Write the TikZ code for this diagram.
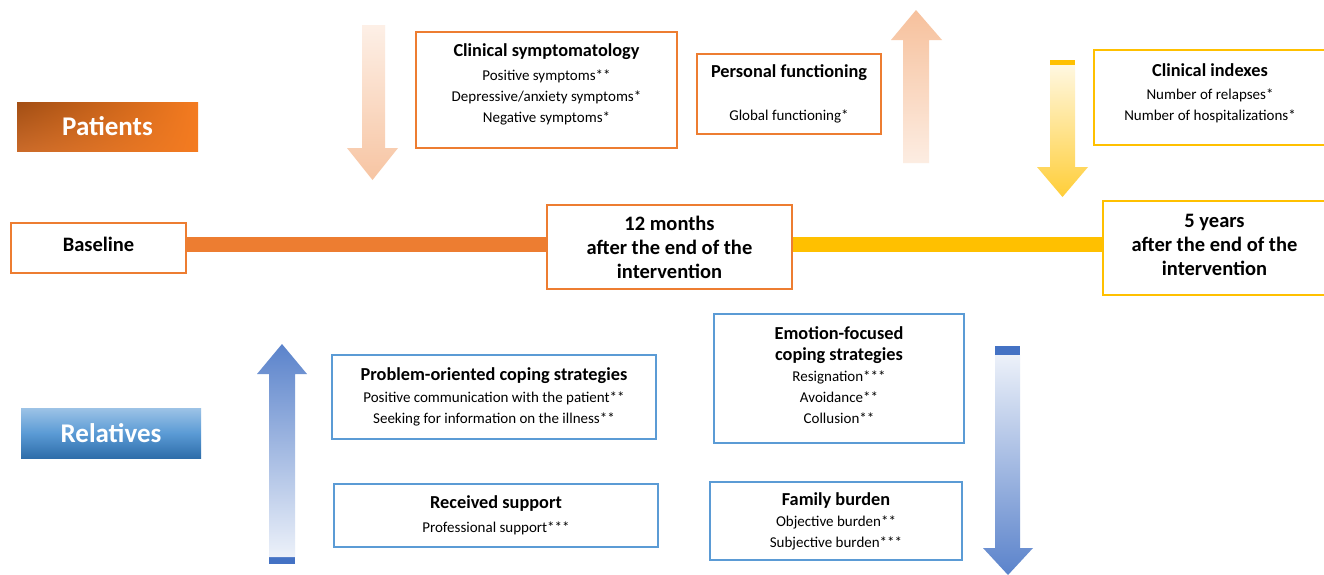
\documentclass[tikz,border=0pt]{standalone}
\usepackage{fontspec}
\setmainfont{Carlito}
\usetikzlibrary{shadings}
\definecolor{orB}{HTML}{ED7D31}
\definecolor{yeB}{HTML}{FFC000}
\definecolor{blB}{HTML}{5B9BD5}
\definecolor{blA}{HTML}{4472C4}
\definecolor{blTop}{HTML}{9DC3E6}
\definecolor{blBot}{HTML}{2E6DAA}
\definecolor{orDark}{HTML}{A24E14}
\definecolor{orMain}{HTML}{F47B20}
\begin{document}
\begin{tikzpicture}[x=1pt,y=-1pt,
  box/.style={draw, line width=2pt, fill=white, align=center, inner sep=0pt,
    font=\fontsize{15}{21}\selectfont},
  obox/.style={box, draw=orB},
  ybox/.style={box, draw=yeB},
  bbox/.style={box, draw=blB},
  tlbox/.style={box, font=\fontsize{20.5}{24}\selectfont\bfseries},
  grp/.style={text=white, inner sep=0pt, font=\fontsize{27}{30}\selectfont\bfseries},
  bar/.style={line width=15pt}
]
\newcommand{\ttl}[1]{{\bfseries\fontsize{18.3}{21}\selectfont #1}}
\useasboundingbox (0,0) rectangle (1324,574);
\fill[white] (0,0) rectangle (1324,574);

% arrows (decorative)
\shade[top color=orB!12, bottom color=orB!45]
  (362,25) -- (385,25) -- (385,148) -- (398,148) -- (372.5,180) -- (347,148) -- (362,148) -- cycle;
\shade[top color=orB!48, bottom color=orB!14]
  (903,163) -- (929,163) -- (929,40) -- (942,40) -- (916,10) -- (891,40) -- (903,40) -- cycle;
\fill[yeB] (1050,60) rectangle (1075,65);
\shade[top color=yeB!12, bottom color=yeB!78]
  (1050,65) -- (1075,65) -- (1075,167) -- (1088,167) -- (1062.5,197) -- (1037,167) -- (1050,167) -- cycle;
\fill[blA] (269,557) rectangle (295,564);
\shade[top color=blA!88, bottom color=blA!10]
  (269,557) -- (295,557) -- (295,374) -- (307,374) -- (282,344) -- (257,374) -- (269,374) -- cycle;
\fill[blA] (995,346) rectangle (1020,355);
\shade[top color=blA!10, bottom color=blA!88]
  (995,355) -- (1020,355) -- (1020,548) -- (1033,548) -- (1008,575) -- (983,548) -- (995,548) -- cycle;

% group labels
\node[grp, minimum width=181pt, minimum height=49pt,
  upper left=orDark, upper right=orMain, lower left=orB!85!black, lower right=orMain]
  (patients) at (107.5,126.5) {Patients};
\node[grp, minimum width=180pt, minimum height=50pt,
  top color=blTop, bottom color=blBot, middle color=blB]
  (relatives) at (111,433) {Relatives};

% timeline
\node[tlbox, draw=orB, minimum width=175pt, minimum height=50pt] (base) at (98.5,248) {Baseline\rule[-7pt]{0pt}{0pt}};
\node[tlbox, draw=orB, minimum width=245pt, minimum height=84pt] (m12) at (669.5,247)
  {12 months\\after the end of the\\intervention};
\node[tlbox, draw=yeB, minimum width=223pt, minimum height=94pt] (y5) at (1214.5,248)
  {5 years\\after the end of the\\intervention\rule[-6pt]{0pt}{0pt}};
\draw[bar, orB] ([yshift=3.5pt]base.east) -- ([yshift=3.5pt]base.east -| m12.west);
\draw[bar, yeB] ([yshift=3.5pt]base.east -| m12.east) -- ([yshift=3.5pt]base.east -| y5.west);

% patient outcome boxes
\node[obox, minimum width=261pt, minimum height=116pt] (clin) at (546.5,90)
  {\ttl{Clinical symptomatology}\\[3pt]Positive symptoms**\\Depressive/anxiety symptoms*\\Negative symptoms*\rule[-13pt]{0pt}{0pt}};
\node[obox, minimum width=184pt, minimum height=80pt] (pers) at (789,94)
  {\ttl{Personal functioning}\\[22pt]Global functioning*};
\node[ybox, minimum width=232pt, minimum height=95pt] (cidx) at (1210,97.5)
  {\ttl{Clinical indexes}\\[2pt]Number of relapses*\\Number of hospitalizations*\rule[-11pt]{0pt}{0pt}};

% relatives outcome boxes
\node[bbox, minimum width=324pt, minimum height=84pt] (prob) at (494,397)
  {\ttl{Problem-oriented coping strategies}\\[1pt]Positive communication with the patient**\\Seeking for information on the illness**};
\node[bbox, minimum width=324pt, minimum height=63pt] (recv) at (496,515.5)
  {\ttl{Received support}\\[3pt]Professional support***};
\node[bbox, minimum width=250pt, minimum height=129pt] (emo) at (839,378.5)
  {\ttl{Emotion-focused}\\\ttl{coping strategies}\\Resignation***\\Avoidance**\\Collusion**\rule[-7pt]{0pt}{0pt}};
\node[bbox, minimum width=252pt, minimum height=78pt] (fam) at (836,521)
  {\ttl{Family burden}\\Objective burden**\\Subjective burden***\rule[-2pt]{0pt}{0pt}};
\end{tikzpicture}
\end{document}
